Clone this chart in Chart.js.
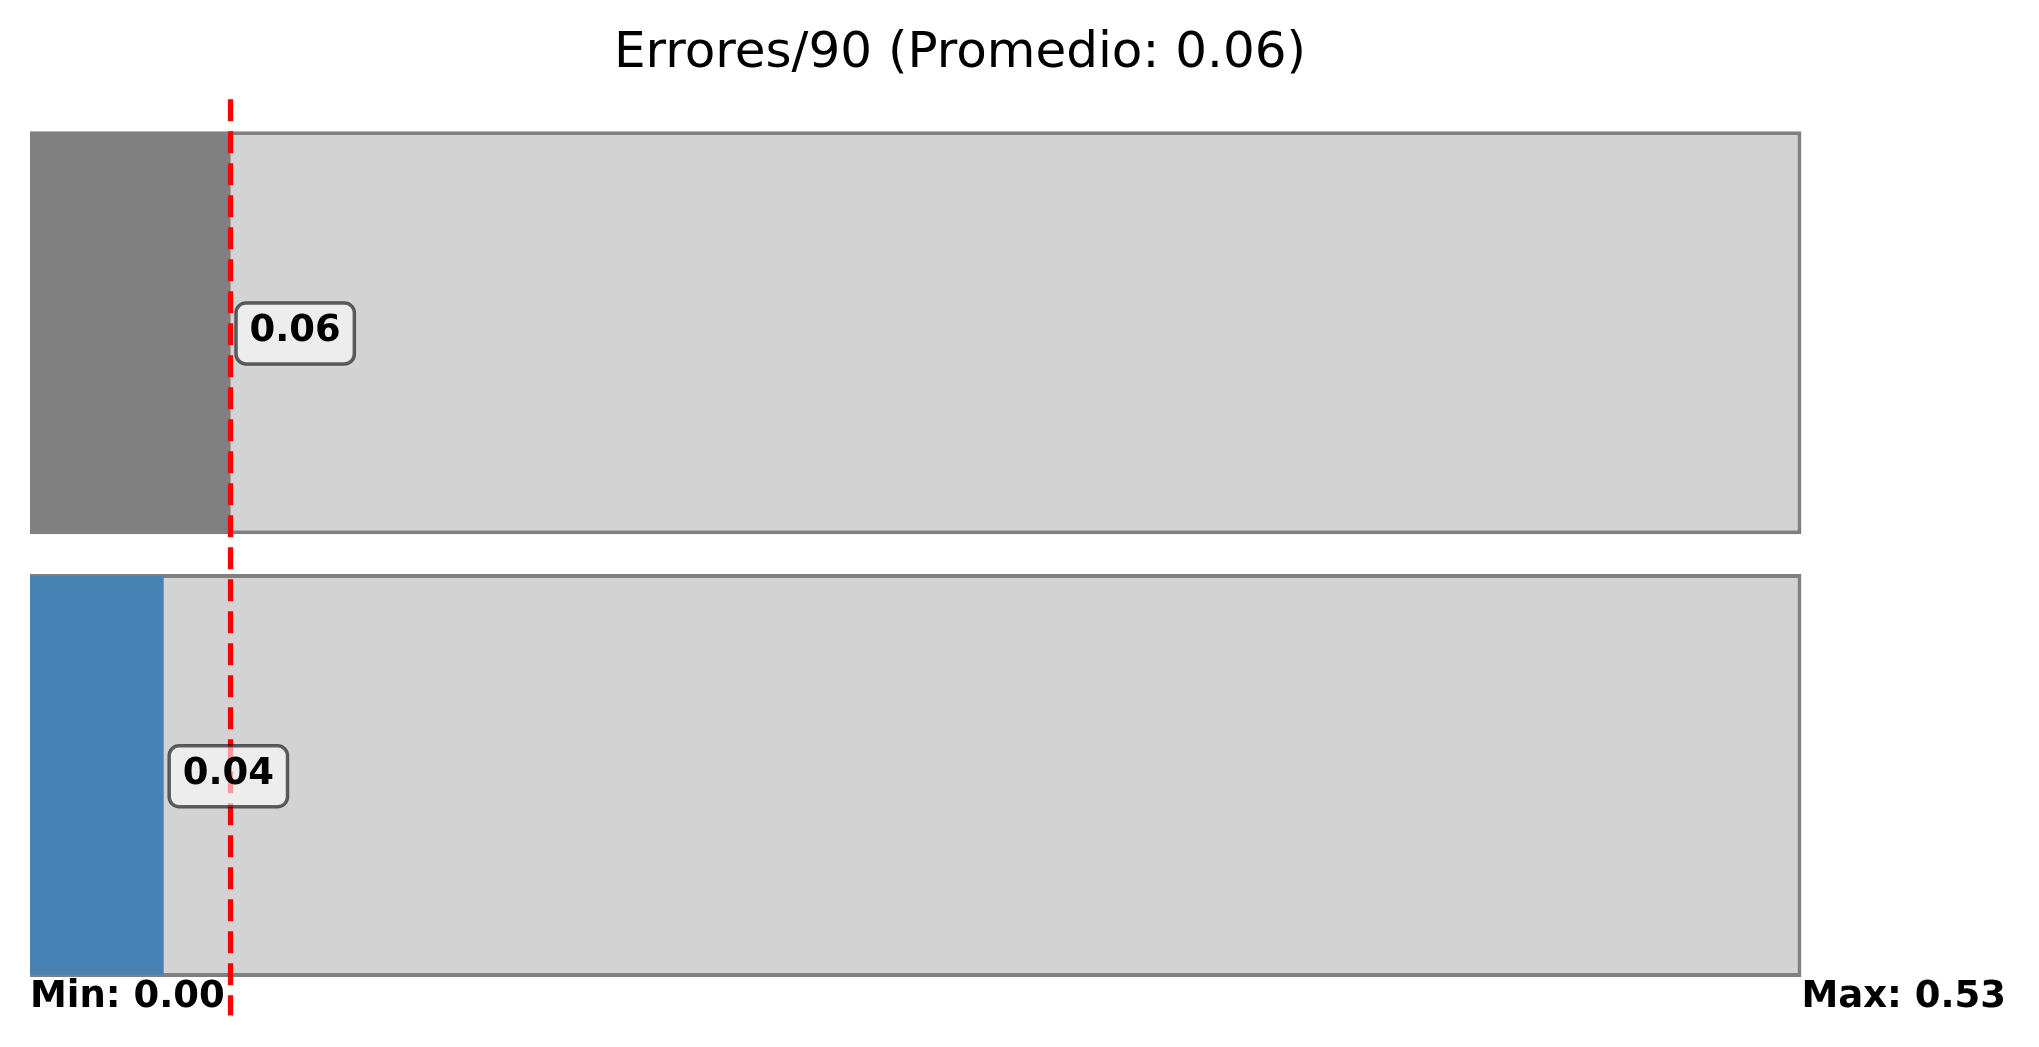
<!DOCTYPE html>
<html>
<head>
<meta charset="utf-8">
<script src="https://cdn.jsdelivr.net/npm/chart.js@4/dist/chart.umd.min.js"></script>
<style>
  html, body { margin: 0; padding: 0; background: #ffffff; }
  #wrap { width: 2039px; height: 1047px; }
</style>
</head>
<body>
<div id="wrap"><canvas id="c" width="2039" height="1047"></canvas></div>
<script>
// ---- data ----
const categories = ['Promedio', 'Jugador'];
const values = [0.06, 0.04];
const rangeValues = [0.53, 0.53];
const barColors = ['#808080', '#4682b4'];
const valueLabels = ['0.06', '0.04'];
const minValue = 0.00;
const maxValue = 0.53;
const avgValue = 0.06;
const titleText = 'Errores/90 (Promedio: 0.06)';
const minLabel = 'Min: 0.00';
const maxLabel = 'Max: 0.53';

const FONT = '"DejaVu Sans", "Liberation Sans", sans-serif';

function roundRectPath(ctx, x, y, w, h, r) {
  ctx.beginPath();
  ctx.moveTo(x + r, y);
  ctx.lineTo(x + w - r, y);
  ctx.arcTo(x + w, y, x + w, y + r, r);
  ctx.lineTo(x + w, y + h - r);
  ctx.arcTo(x + w, y + h, x + w - r, y + h, r);
  ctx.lineTo(x + r, y + h);
  ctx.arcTo(x, y + h, x, y + h - r, r);
  ctx.lineTo(x, y + r);
  ctx.arcTo(x, y, x + r, y, r);
  ctx.closePath();
}

const overlay = {
  id: 'overlay',
  afterDatasetsDraw(chart) {
    const ctx = chart.ctx;
    const xs = chart.scales.x;
    const ys = chart.scales.y;
    ctx.save();

    // average dashed line
    const ax = xs.getPixelForValue(avgValue);
    ctx.strokeStyle = '#ff0000';
    ctx.lineWidth = 5.3;
    ctx.setLineDash([22, 10]);
    ctx.beginPath();
    ctx.moveTo(ax, ys.getPixelForValue(-0.527));
    ctx.lineTo(ax, ys.getPixelForValue(1.542));
    ctx.stroke();
    ctx.setLineDash([]);

    // value label boxes
    ctx.font = 'bold 37px ' + FONT;
    values.forEach((v, i) => {
      const px = xs.getPixelForValue(v);
      const cy = ys.getPixelForValue(i);
      const tw = ctx.measureText(valueLabels[i]).width;
      const bw = tw + 27;
      const bh = 61;
      const bx = px + 5.5;
      const by = cy + 0.75 - bh / 2;
      roundRectPath(ctx, bx, by, bw, bh, 10);
      ctx.fillStyle = 'rgba(255,255,255,0.6)';
      ctx.fill();
      ctx.lineWidth = 3.5;
      ctx.strokeStyle = 'rgba(0,0,0,0.6)';
      ctx.stroke();
      ctx.fillStyle = '#000000';
      ctx.textAlign = 'center';
      ctx.textBaseline = 'middle';
      ctx.fillText(valueLabels[i], bx + bw / 2, cy - 1);
    });

    // min / max labels
    ctx.textAlign = 'left';
    ctx.textBaseline = 'alphabetic';
    ctx.fillStyle = '#000000';
    const ty = ys.getPixelForValue(1.522);
    ctx.fillText(minLabel, xs.getPixelForValue(minValue), ty);
    ctx.fillText(maxLabel, xs.getPixelForValue(maxValue), ty);
    ctx.restore();
  }
};

new Chart(document.getElementById('c'), {
  type: 'bar',
  data: {
    labels: categories,
    datasets: [
      {
        data: values,
        backgroundColor: barColors,
        borderWidth: 0,
        barPercentage: 0.9,
        categoryPercentage: 1.0,
        grouped: false,
        order: 1
      },
      {
        data: rangeValues,
        backgroundColor: '#d3d3d3',
        borderColor: '#808080',
        borderWidth: 4,
        borderSkipped: false,
        barPercentage: 0.91,
        categoryPercentage: 1.0,
        grouped: false,
        order: 2
      }
    ]
  },
  options: {
    indexAxis: 'y',
    responsive: false,
    animation: false,
    devicePixelRatio: 1,
    layout: { padding: { left: 30, right: 149, top: 0, bottom: 50 } },
    scales: {
      x: { type: 'linear', min: 0, max: maxValue * 1.05, display: false },
      y: { display: false, offset: true }
    },
    plugins: {
      legend: { display: false },
      tooltip: { enabled: false },
      title: {
        display: true,
        text: titleText,
        color: '#000000',
        font: { family: FONT, size: 50, weight: 'normal', lineHeight: 1.2 },
        padding: { top: 24.5, bottom: 26.75 }
      }
    }
  },
  plugins: [overlay]
});
</script>
</body>
</html>
